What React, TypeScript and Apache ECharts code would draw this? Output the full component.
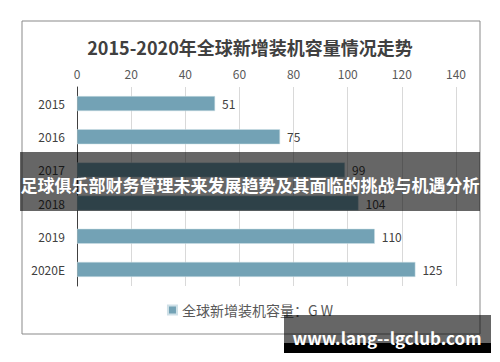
import React, { useEffect, useRef } from "react";
import * as echarts from "echarts";

const categories = ["2015", "2016", "2017", "2018", "2019", "2020E"];
const values = [51, 75, 99, 104, 110, 125];
const seriesName = "全球新增装机容量：G W";
const titleText = "2015-2020年全球新增装机容量情况走势";
const bannerText = "足球俱乐部财务管理未来发展趋势及其面临的挑战与机遇分析";
const watermarkText = "www.lang--lgclub.com";

const FONT = '"Noto Sans CJK SC", "Noto Sans", sans-serif';

export default function App() {
  const ref = useRef<HTMLDivElement>(null);
  useEffect(() => {
    if (!ref.current) return;
    const chart = echarts.init(ref.current, undefined, { renderer: "svg" });
    chart.setOption({
      animation: false,
      backgroundColor: "#ffffff",
      textStyle: { fontFamily: FONT },
      title: {
        text: titleText,
        left: "center",
        top: 33,
        textStyle: { fontSize: 18, fontWeight: "bold", color: "#404040", fontFamily: FONT },
      },
      legend: {
        data: [{ name: seriesName, icon: "rect" }],
        bottom: 40,
        left: "center",
        itemWidth: 9,
        itemHeight: 9,
        itemGap: 4,
        textStyle: { fontSize: 14, color: "#595959", fontFamily: FONT },
      },
      grid: { left: 77, right: 44, top: 87, bottom: 76, containLabel: false },
      xAxis: {
        type: "value",
        position: "top",
        min: 0,
        max: 140,
        interval: 20,
        axisLine: { show: false },
        axisTick: { show: false },
        axisLabel: { color: "#595959", fontSize: 12, margin: 8 },
        splitLine: { show: true, lineStyle: { color: "#d9d9d9", width: 1 } },
      },
      yAxis: {
        type: "category",
        data: categories,
        inverse: true,
        axisLine: { show: true, lineStyle: { color: "#404040", width: 1 } },
        axisTick: { show: false },
        axisLabel: { color: "#404040", fontSize: 12, margin: 12 },
      },
      series: [
        {
          name: seriesName,
          type: "bar",
          data: values,
          barWidth: 15,
          itemStyle: { color: "#73a2b5", borderColor: "#cfe0e7", borderWidth: 0.5 },
          label: {
            show: true,
            position: "right",
            distance: 7,
            color: "#404040",
            fontSize: 12,
          },
        },
      ],
      graphic: [
        {
          type: "rect",
          z: 90,
          shape: { x: 22, y: 21, width: 458, height: 313 },
          style: { fill: "none", stroke: "#898989", lineWidth: 1 },
        },
        {
          type: "rect",
          z: 100,
          shape: { x: 20, y: 152, width: 460, height: 59 },
          style: { fill: "rgba(0,0,0,0.6)" },
        },
        {
          type: "text",
          z: 101,
          x: 250,
          y: 184,
          style: {
            text: bannerText,
            fill: "#ffffff",
            font: `bold 17px ${FONT}`,
            align: "center",
            verticalAlign: "middle",
          },
        },
        {
          type: "rect",
          z: 100,
          shape: { x: 284, y: 315, width: 207, height: 28 },
          style: { fill: "rgba(0,0,0,0.6)" },
        },
        {
          type: "rect",
          z: 100,
          shape: { x: 284, y: 343, width: 207, height: 10 },
          style: { fill: "#000000" },
        },
        {
          type: "text",
          z: 101,
          x: 387,
          y: 337,
          style: {
            text: watermarkText,
            fill: "#ffffff",
            font: `bold 17px ${FONT}`,
            align: "center",
            verticalAlign: "middle",
          },
        },
      ],
    });
    return () => chart.dispose();
  }, []);
  return (
    <div
      ref={ref}
      style={{ position: "fixed", left: 0, top: 0, width: 500, height: 362 }}
    />
  );
}
